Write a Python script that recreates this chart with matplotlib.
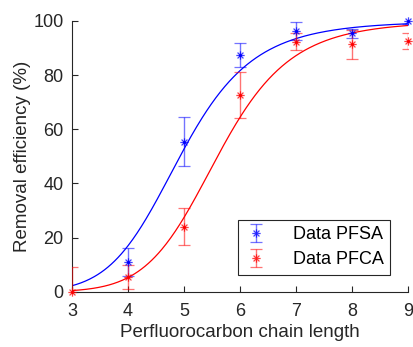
import numpy as np
import matplotlib
matplotlib.use('Agg')
import matplotlib.pyplot as plt
from matplotlib.path import Path

plt.rcParams['font.family'] = ['Liberation Sans', 'DejaVu Sans']

# measured data (chain length vs removal efficiency, %)
chain_pfsa = [4, 5, 6, 7, 8, 9]
eff_pfsa = [11.0, 55.4, 87.4, 96.3, 95.4, 100.0]
err_pfsa = [5.0, 9.0, 4.5, 3.5, 1.5, 1.0]

chain_pfca = [3, 4, 5, 6, 7, 8, 9]
eff_pfca = [0.0, 5.5, 24.0, 72.7, 92.4, 91.4, 92.6]
err_pfca = [9.0, 4.5, 6.8, 8.5, 3.0, 5.4, 3.0]

# Hill-type fit parameters [K, n]
fit_pfsa = [4.93, 7.6]
fit_pfca = [5.6, 8.6]

gray = (0.15, 0.15, 0.15)

# MATLAB-style '*' marker: + and x overlaid
c = np.sqrt(0.5)
verts = [(-1, 0), (1, 0), (0, -1), (0, 1), (-c, -c), (c, c), (-c, c), (c, -c)]
codes = [Path.MOVETO, Path.LINETO] * 4
star = Path(verts, codes)


def hill(x, p):
    K, n = p
    return 100 * x ** n / (x ** n + K ** n)


fig = plt.figure(figsize=(4.13, 3.47), dpi=100)
ax = fig.add_axes([0.174, 0.159, 0.814, 0.7805])

xs = np.linspace(3, 9, 300)
ax.plot(xs, hill(xs, fit_pfsa), color='b', lw=0.9)
ax.plot(xs, hill(xs, fit_pfca), color='r', lw=0.9)

handles = []
for x, y, e, col in [(chain_pfsa, eff_pfsa, err_pfsa, 'b'),
                     (chain_pfca, eff_pfca, err_pfca, 'r')]:
    h = ax.errorbar(x, y, yerr=e, marker=star, linestyle='none',
                    markersize=6, mec=col, mew=0.9, ecolor=col, elinewidth=1.0,
                    capsize=4, capthick=1.0, zorder=3)
    h[0].set_clip_on(False)
    h[0].set_alpha(0.75)
    h[0].set_zorder(4)
    for cap in h[1]:
        cap.set_alpha(0.55)
    for bl in h[2]:
        bl.set_alpha(0.55)
    # dark centre dot like the MATLAB asterisk
    ax.plot(x, y, linestyle='none', marker='o', markersize=2.2, mfc=col,
            mec=col, mew=0, clip_on=False, zorder=5)
    handles.append(h)

leg = ax.legend(handles, ['Data PFSA', 'Data PFCA'],
                loc='lower right', bbox_to_anchor=(0.947, 0.063),
                fontsize=13, fancybox=False, framealpha=1, edgecolor=gray,
                handlelength=1.3, handletextpad=1.4, borderpad=0.35,
                labelspacing=0.45, borderaxespad=0)
leg.get_frame().set_linewidth(0.8)

ax.set_xlim(3, 9)
ax.set_ylim(0, 100)
ax.set_xticks([3, 4, 5, 6, 7, 8, 9])
ax.set_yticks([0, 20, 40, 60, 80, 100])
ax.spines['top'].set_visible(False)
ax.spines['right'].set_visible(False)
for s in ['left', 'bottom']:
    ax.spines[s].set_color(gray)
    ax.spines[s].set_linewidth(0.8)
ax.tick_params(direction='in', length=4, width=0.8, colors=gray,
               labelsize=13, labelcolor=gray)
ax.tick_params(axis='x', pad=8)
ax.tick_params(axis='y', pad=6)

ax.set_xlabel('Perfluorocarbon chain length', fontsize=13.5, color=gray, labelpad=3)
ax.set_ylabel('Removal efficiency (%)', fontsize=13.5, color=gray, labelpad=2)

fig.savefig('out.png', dpi=100)
